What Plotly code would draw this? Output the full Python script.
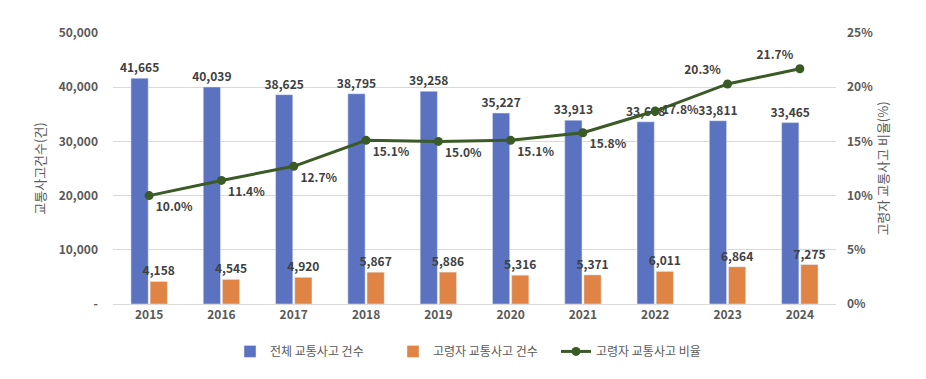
import plotly.graph_objects as go

years = ["2015", "2016", "2017", "2018", "2019", "2020", "2021", "2022", "2023", "2024"]
total_accidents = [41665, 40039, 38625, 38795, 39258, 35227, 33913, 33608, 33811, 33465]
elderly_accidents = [4158, 4545, 4920, 5867, 5886, 5316, 5371, 6011, 6864, 7275]
elderly_ratio = [10.0, 11.4, 12.7, 15.1, 15.0, 15.1, 15.8, 17.8, 20.3, 21.7]

left_ticks = [0, 10000, 20000, 30000, 40000, 50000]
left_ticktext = ["-", "10,000", "20,000", "30,000", "40,000", "50,000"]
right_ticks = [0, 5, 10, 15, 20, 25]
right_ticktext = ["0%", "5%", "10%", "15%", "20%", "25%"]

FONT = "Noto Sans CJK KR"
BLUE = "#5A72C0"
ORANGE = "#DF8444"
GREEN = "#3A5A26"
LABEL = "#404040"
TICK = "#595959"

fig = go.Figure()
fig.add_trace(go.Bar(
    x=years, y=total_accidents, name="전체 교통사고 건수",
    marker_color=BLUE,
    text=[f"{v:,}" for v in total_accidents], textposition="outside",
    constraintext="none",
    textfont=dict(family=FONT, size=12, color=LABEL, weight="bold"),
    cliponaxis=False,
))
fig.add_trace(go.Bar(
    x=years, y=elderly_accidents, name="고령자 교통사고 건수",
    marker_color=ORANGE,
    text=[f"{v:,}" for v in elderly_accidents], textposition="outside",
    constraintext="none",
    textfont=dict(family=FONT, size=12, color=LABEL, weight="bold"),
    cliponaxis=False,
))
fig.add_trace(go.Scatter(
    x=years, y=elderly_ratio, name="고령자 교통사고 비율", yaxis="y2",
    mode="lines+markers+text",
    line=dict(color=GREEN, width=3), marker=dict(color=GREEN, size=9),
    text=[f"{v:.1f}%" for v in elderly_ratio],
    textposition=["bottom right"] * 7 + ["middle right", "top left", "top left"],
    textfont=dict(family=FONT, size=12, color=LABEL, weight="bold"),
    cliponaxis=False,
))

fig.update_layout(
    width=926, height=379,
    margin=dict(l=105, r=98, t=25, b=83, autoexpand=False),
    paper_bgcolor="white", plot_bgcolor="white",
    font=dict(family=FONT, size=12, color=TICK),
    barmode="group", bargap=0.47, bargroupgap=0.1,
    showlegend=True,
    legend=dict(orientation="h", x=0.5, xanchor="center", y=-0.175, yanchor="middle",
                font=dict(family=FONT, size=12, color=TICK), traceorder="normal",
                itemwidth=30, entrywidth=118, entrywidthmode="pixels"),
    xaxis=dict(range=[-0.5, len(years) - 0.5], showgrid=False, showline=True,
               linecolor="#D9D9D9", linewidth=1, automargin=False,
               tickfont=dict(family=FONT, size=12, color=TICK, weight="bold"), ticks=""),
    yaxis=dict(range=[0, 50000], tickvals=left_ticks, ticktext=left_ticktext, automargin=False,
               showgrid=True, gridcolor="#D9D9D9", zeroline=False,
               tickfont=dict(family=FONT, size=12, color=TICK, weight="bold"),
               ticklabelstandoff=14,
               title=dict(text="교통사고건수(건)", font=dict(family=FONT, size=13, color=TICK), standoff=10)),
    yaxis2=dict(range=[0, 25], tickvals=right_ticks, ticktext=right_ticktext, automargin=False,
                overlaying="y", side="right", showgrid=False, zeroline=False,
                tickfont=dict(family=FONT, size=12, color=TICK, weight="bold"),
                ticklabelstandoff=10,
                title=dict(text="고령자 교통사고 비율(%)", font=dict(family=FONT, size=13, color=TICK), standoff=6)),
)

fig.write_html("out.html")
